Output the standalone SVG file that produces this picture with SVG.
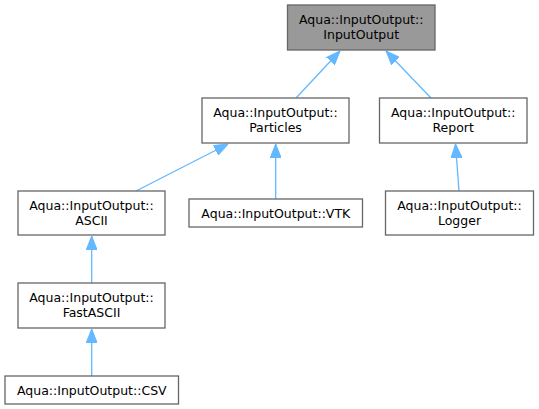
<svg xmlns="http://www.w3.org/2000/svg" width="539" height="409" viewBox="0 0 539 409">
<style>
.n rect{fill:#fff;stroke:#666;stroke-width:1.3}
.n.root rect{fill:#999}
.n text{font-family:"DejaVu Sans",sans-serif;font-size:12.5px;fill:#000;text-anchor:middle}
.e line{stroke:#63b8ff;stroke-width:1.3;marker-end:url(#ah)}
</style>
<defs>
<marker id="ah" viewBox="0 0 14 11" refX="14" refY="5.5" markerWidth="14" markerHeight="11" markerUnits="userSpaceOnUse" orient="auto">
<path d="M0,0 L14,5.5 L0,11 z" fill="#63b8ff" stroke="#63b8ff" stroke-width="1"/>
</marker>
</defs>
<rect width="539" height="409" fill="#fff"/>
<g id="edges" class="e">
<line x1="296" y1="98" x2="340" y2="51"/>
<line x1="431" y1="98" x2="386" y2="51"/>
<line x1="136" y1="191" x2="228" y2="144"/>
<line x1="275.7" y1="199" x2="275.7" y2="144"/>
<line x1="459" y1="191" x2="455.5" y2="144"/>
<line x1="91.7" y1="283" x2="91.7" y2="236"/>
<line x1="91.7" y1="376" x2="91.7" y2="329"/>
</g>
<g id="node-inputoutput" class="n root">
<rect x="287.5" y="5" width="147.5" height="45"/>
<text x="361.2" y="23.5">Aqua::InputOutput::</text>
<text x="361.2" y="39">InputOutput</text>
</g>
<g id="node-particles" class="n">
<rect x="202" y="98" width="147" height="45"/>
<text x="275.5" y="116.5">Aqua::InputOutput::</text>
<text x="275.5" y="132">Particles</text>
</g>
<g id="node-report" class="n">
<rect x="379.5" y="98" width="147.5" height="45"/>
<text x="453.2" y="116.5">Aqua::InputOutput::</text>
<text x="453.2" y="132">Report</text>
</g>
<g id="node-ascii" class="n">
<rect x="18" y="191" width="147" height="44"/>
<text x="91.5" y="209.5">Aqua::InputOutput::</text>
<text x="91.5" y="225">ASCII</text>
</g>
<g id="node-vtk" class="n">
<rect x="189" y="199" width="173.5" height="28"/>
<text x="275.8" y="217.5">Aqua::InputOutput::VTK</text>
</g>
<g id="node-logger" class="n">
<rect x="385.5" y="191" width="148" height="44"/>
<text x="459.5" y="209.5">Aqua::InputOutput::</text>
<text x="459.5" y="225">Logger</text>
</g>
<g id="node-fastascii" class="n">
<rect x="18" y="283" width="147" height="45"/>
<text x="91.5" y="301.5">Aqua::InputOutput::</text>
<text x="91.5" y="317">FastASCII</text>
</g>
<g id="node-csv" class="n">
<rect x="5" y="376" width="173.5" height="28"/>
<text x="91.8" y="394.5">Aqua::InputOutput::CSV</text>
</g>
</svg>
